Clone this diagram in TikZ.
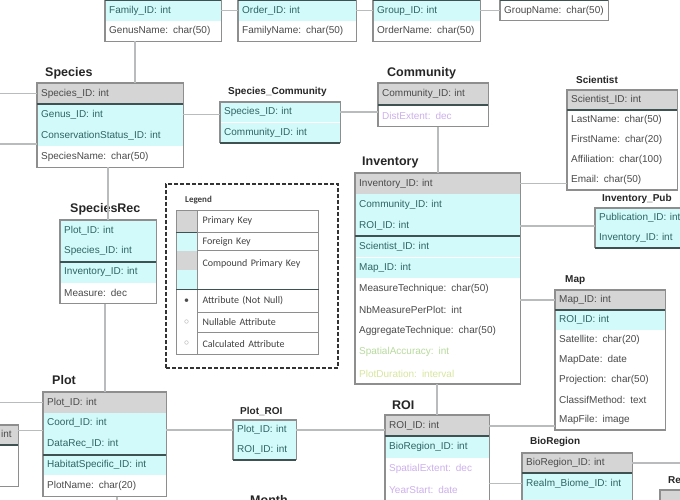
\documentclass[tikz,border=0pt]{standalone}
\usepackage{fontspec}
\setmainfont{Liberation Sans}
\newfontfamily\legendfont{Carlito}
\usetikzlibrary{positioning}

\definecolor{pkgray}{HTML}{D5D5D5}
\definecolor{fkcyan}{HTML}{D2FAFA}
\definecolor{framegray}{HTML}{8E8E8E}
\definecolor{sepdark}{HTML}{3E5252}
\definecolor{relgray}{HTML}{B8BCBC}
\definecolor{txtgray}{HTML}{4A4A4A}
\definecolor{fktxt}{HTML}{2F6464}
\definecolor{nullpurple}{HTML}{CDB0EC}
\definecolor{calcgreen}{HTML}{B8DA9E}
\definecolor{calcyellow}{HTML}{D8E69E}

\tikzset{
  cell/.style={anchor=north west, inner xsep=4pt, inner ysep=0pt, minimum height=20pt,
    text width=100pt, align=left, font=\fontsize{10}{11}\selectfont, text=txtgray},
  pk/.style={cell, fill=pkgray},
  fk/.style={cell, fill=fkcyan, text=fktxt},
  att/.style={cell, fill=white},
  tbl/.style={draw=framegray, line width=1.1pt},
  keysep/.style={draw=sepdark, line width=2pt},
  rel/.style={draw=relgray, line width=1.6pt},
  bigtitle/.style={anchor=west, inner sep=0pt, text=black!85,
    font=\fontsize{12.5}{13}\selectfont\bfseries},
  smalltitle/.style={anchor=west, inner sep=0pt, text=black!85,
    font=\fontsize{10}{11}\selectfont\bfseries},
  legendbox/.style={draw=black!80, line width=2pt, dash pattern=on 4pt off 2pt},
  lgswatch/.style={anchor=north west, inner sep=0pt, minimum width=21pt,
    font=\legendfont\fontsize{10}{11}\selectfont, text=black!70},
  lgtext/.style={anchor=north west, inner xsep=5pt, inner ysep=0pt, text width=111pt,
    align=left, font=\legendfont\fontsize{10}{11}\selectfont, text=black!75},
  lgline/.style={draw=framegray, line width=0.8pt},
}

\begin{document}
\begin{tikzpicture}[x=1pt,y=-1pt,node distance=0pt]
\useasboundingbox (0,0) rectangle (680,500);
\clip (0,0) rectangle (680,500);
\fill[white] (0,0) rectangle (680,500);
\coordinate (edgeW) at (0,0);
\coordinate (edgeE) at (680,0);
\coordinate (edgeS) at (0,505);

% top row, cut off
\begin{scope}[cell/.append style={text width=108pt}]
  \node[pk] (gen-pk) at (105,-20) {};
  \node[fk,below=of gen-pk] (gen-f1) {Family\_ID: int};
  \node[att,below=of gen-f1] (gen-a1) {GenusName: char(50)};
\end{scope}
\begin{scope}[cell/.append style={text width=110pt}]
  \node[pk] (fam-pk) at (238,-20) {};
  \node[fk,below=of fam-pk] (fam-f1) {Order\_ID: int};
  \node[att,below=of fam-f1] (fam-a1) {FamilyName: char(50)};
\end{scope}
\begin{scope}[cell/.append style={text width=99pt}]
  \node[pk] (ord-pk) at (373,-20) {};
  \node[fk,below=of ord-pk] (ord-f1) {Group\_ID: int};
  \node[att,below=of ord-f1] (ord-a1) {OrderName: char(50)};
\end{scope}
\begin{scope}[cell/.append style={text width=100pt}]
  \node[pk] (grp-pk) at (500,-20) {};
  \node[att,below=of grp-pk] (grp-a1) {GroupName: char(50)};
\end{scope}
\foreach \t/\r in {gen/gen-a1,fam/fam-a1,ord/ord-a1,grp/grp-a1}{
  \draw[tbl] (\t-pk.north west) rectangle (\r.south east);
  \draw[keysep] (\t-pk.south west) -- (\t-pk.south east);
}

% Species
\node[bigtitle] (spc-title) at (45,73) {Species};
\begin{scope}[cell/.append style={text width=138pt,minimum height=20.7pt}]
  \node[pk] (spc-pk) at (37,83) {Species\_ID: int};
  \node[fk,below=of spc-pk] (spc-f1) {Genus\_ID: int};
  \node[fk,below=of spc-f1] (spc-f2) {ConservationStatus\_ID: int};
  \node[att,below=of spc-f2] (spc-a1) {SpeciesName: char(50)};
\end{scope}
\draw[tbl] (spc-pk.north west) rectangle (spc-a1.south east);
\draw[keysep] (spc-pk.south west) -- (spc-pk.south east);

% Species_Community
\node[smalltitle] (sc-title) at (228,92) {Species\_Community};
\begin{scope}[cell/.append style={text width=112pt}]
  \node[fk] (sc-f1) at (220,102) {Species\_ID: int};
  \node[fk,below=of sc-f1] (sc-f2) {Community\_ID: int};
\end{scope}
\draw[tbl] (sc-f1.north west) rectangle (sc-f2.south east);
\draw[keysep] (sc-f2.south west) -- (sc-f2.south east);

% Community
\node[bigtitle] (com-title) at (387,73) {Community};
\begin{scope}[cell/.append style={text width=102pt,minimum height=21.5pt}]
  \node[pk] (com-pk) at (378,83) {Community\_ID: int};
  \node[att,below=of com-pk,text=nullpurple] (com-a1) {DistExtent: dec};
\end{scope}
\draw[tbl] (com-pk.north west) rectangle (com-a1.south east);
\draw[keysep] (com-pk.south west) -- (com-pk.south east);

% Scientist
\node[smalltitle] (sci-title) at (576,80) {Scientist};
\begin{scope}[cell/.append style={text width=102pt,minimum height=19.6pt}]
  \node[pk] (sci-pk) at (567,90) {Scientist\_ID: int};
  \node[att,below=of sci-pk] (sci-a1) {LastName: char(50)};
  \node[att,below=of sci-a1] (sci-a2) {FirstName: char(20)};
  \node[att,below=of sci-a2] (sci-a3) {Affiliation: char(100)};
  \node[att,below=of sci-a3] (sci-a4) {Email: char(50)};
\end{scope}
\draw[tbl] (sci-pk.north west) rectangle (sci-a4.south east);
\draw[keysep] (sci-pk.south west) -- (sci-pk.south east);

% Inventory
\node[bigtitle] (inv-title) at (362,162) {Inventory};
\begin{scope}[cell/.append style={text width=157pt,minimum height=20.7pt}]
  \node[pk] (inv-pk) at (355,173) {Inventory\_ID: int};
  \node[fk,below=of inv-pk] (inv-f1) {Community\_ID: int};
  \node[fk,below=of inv-f1] (inv-f2) {ROI\_ID: int};
  \node[fk,below=of inv-f2] (inv-f3) {Scientist\_ID: int};
  \node[fk,below=of inv-f3] (inv-f4) {Map\_ID: int};
  \node[att,below=of inv-f4] (inv-a1) {MeasureTechnique: char(50)};
  \node[att,below=of inv-a1] (inv-a2) {NbMeasurePerPlot: int};
  \node[att,below=of inv-a2] (inv-a3) {AggregateTechnique: char(50)};
  \node[att,below=of inv-a3,text=calcgreen] (inv-a4) {SpatialAccuracy: int};
  \node[att,below=of inv-a4,text=calcyellow] (inv-a5) {PlotDuration: interval};
\end{scope}
\draw[tbl] (inv-pk.north west) rectangle (inv-a5.south east);
\draw[keysep] (inv-f2.south west) -- (inv-f2.south east);

% Inventory_Pub
\node[smalltitle] (ip-title) at (602,199) {Inventory\_Pub};
\begin{scope}[cell/.append style={text width=92pt,minimum height=19.5pt}]
  \node[fk] (ip-f1) at (595,208) {Publication\_ID: int};
  \node[fk,below=of ip-f1] (ip-f2) {Inventory\_ID: int};
\end{scope}
\draw[tbl] (ip-f1.north west) rectangle (ip-f2.south east);
\draw[keysep] (ip-f2.south west) -- (ip-f2.south east);

% Map
\node[smalltitle] (map-title) at (565,280) {Map};
\begin{scope}[cell/.append style={text width=102pt,minimum height=19.6pt}]
  \node[pk] (map-pk) at (555,290) {Map\_ID: int};
  \node[fk,below=of map-pk] (map-f1) {ROI\_ID: int};
  \node[att,below=of map-f1] (map-a1) {Satellite: char(20)};
  \node[att,below=of map-a1] (map-a2) {MapDate: date};
  \node[att,below=of map-a2] (map-a3) {Projection: char(50)};
  \node[att,below=of map-a3] (map-a4) {ClassifMethod: text};
  \node[att,below=of map-a4] (map-a5) {MapFile: image};
\end{scope}
\draw[tbl] (map-pk.north west) rectangle (map-a5.south east);
\draw[keysep] (map-pk.south west) -- (map-pk.south east);

% Legend
\node[legendbox,anchor=north west,minimum width=172pt,minimum height=184pt] (legend) at (165,183) {};
\node[anchor=west,inner sep=0pt,font=\legendfont\bfseries\fontsize{9}{10}\selectfont,text=black!75]
  (lg-title) at (185,200) {Legend};
\node[lgswatch,fill=pkgray,minimum height=22pt] (lg-s1) at (176,210) {};
\node[lgswatch,fill=fkcyan,minimum height=18pt,below=of lg-s1] (lg-s2) {};
\node[lgswatch,fill=pkgray,minimum height=19pt,below=of lg-s2] (lg-s3) {};
\node[lgswatch,fill=fkcyan,minimum height=19pt,below=of lg-s3] (lg-s3b) {};
\node[lgswatch,minimum height=22pt,below=of lg-s3b] (lg-s4) {\textbullet};
\node[lgswatch,minimum height=20pt,below=of lg-s4,text=black!35] (lg-s5) {$\circ$};
\node[lgswatch,minimum height=22pt,below=of lg-s5,text=black!35] (lg-s6) {$\circ$};
\node[lgtext,minimum height=22pt] (lg-t1) at (lg-s1.north east) {Primary Key};
\node[lgtext,minimum height=18pt] (lg-t2) at (lg-s2.north east) {Foreign Key};
\node[lgtext,minimum height=26pt] (lg-t3) at (lg-s3.north east) {Compound Primary Key};
\node[lgtext,minimum height=22pt] (lg-t4) at (lg-s4.north east) {Attribute (Not Null)};
\node[lgtext,minimum height=20pt] (lg-t5) at (lg-s5.north east) {Nullable Attribute};
\node[lgtext,minimum height=22pt] (lg-t6) at (lg-s6.north east) {Calculated Attribute};
\draw[lgline] (lg-s1.north west) rectangle (lg-t6.south east);
\draw[lgline] (lg-s1.north east) -- (lg-s6.south east);
\foreach \r in {lg-t2,lg-t3,lg-t5,lg-t6}
  \draw[lgline] (\r.north west) -- (\r.north east);
\draw[keysep,line width=1.4pt] (lg-s1.south west) -- (lg-s1.south east);
\draw[keysep,line width=1.4pt] (lg-s4.north west) -- (lg-t4.north east);

% SpeciesRec
\node[bigtitle] (sr-title) at (70,209) {SpeciesRec};
\begin{scope}[cell/.append style={text width=88pt,minimum height=20.5pt}]
  \node[fk] (sr-f1) at (60,220) {Plot\_ID: int};
  \node[fk,below=of sr-f1] (sr-f2) {Species\_ID: int};
  \node[fk,below=of sr-f2] (sr-f3) {Inventory\_ID: int};
  \node[att,below=of sr-f3] (sr-a1) {Measure: dec};
\end{scope}
\draw[tbl] (sr-f1.north west) rectangle (sr-a1.south east);
\draw[keysep] (sr-f2.south west) -- (sr-f2.south east);

% Plot
\node[bigtitle] (plt-title) at (52,380) {Plot};
\begin{scope}[cell/.append style={text width=115pt,minimum height=20.5pt}]
  \node[pk] (plt-pk) at (43,392) {Plot\_ID: int};
  \node[fk,below=of plt-pk] (plt-f1) {Coord\_ID: int};
  \node[fk,below=of plt-f1] (plt-f2) {DataRec\_ID: int};
  \node[fk,below=of plt-f2] (plt-f3) {HabitatSpecific\_ID: int};
  \node[att,below=of plt-f3] (plt-a1) {PlotName: char(20)};
\end{scope}
\draw[tbl] (plt-pk.north west) rectangle (plt-a1.south east);
\draw[keysep] (plt-f2.south west) -- (plt-f2.south east);

% cut off on the left
\begin{scope}[cell/.append style={text width=62pt}]
  \node[pk] (lft-pk) at (-52,425) {Coord\_ID: int};
  \node[att,below=of lft-pk] (lft-a1) {};
  \node[att,below=of lft-a1] (lft-a2) {};
\end{scope}
\draw[tbl] (lft-pk.north west) rectangle (lft-a2.south east);
\draw[keysep] (lft-pk.south west) -- (lft-pk.south east);

% Plot_ROI
\node[smalltitle] (pr-title) at (240,411) {Plot\_ROI};
\begin{scope}[cell/.append style={text width=55pt,minimum height=19.5pt}]
  \node[fk] (pr-f1) at (233,420) {Plot\_ID: int};
  \node[fk,below=of pr-f1] (pr-f2) {ROI\_ID: int};
\end{scope}
\draw[tbl] (pr-f1.north west) rectangle (pr-f2.south east);
\draw[keysep] (pr-f2.south west) -- (pr-f2.south east);

% ROI
\node[bigtitle] (roi-title) at (392,405) {ROI};
\begin{scope}[cell/.append style={text width=96pt,minimum height=21pt}]
  \node[pk] (roi-pk) at (385,415) {ROI\_ID: int};
  \node[fk,below=of roi-pk] (roi-f1) {BioRegion\_ID: int};
  \node[att,below=of roi-f1,text=nullpurple] (roi-a1) {SpatialExtent: dec};
  \node[att,below=of roi-a1,text=nullpurple] (roi-a2) {YearStart: date};
  \node[att,below=of roi-a2] (roi-a3) {};
\end{scope}
\draw[tbl] (roi-pk.north west) rectangle (roi-a3.south east);
\draw[keysep] (roi-pk.south west) -- (roi-pk.south east);

% BioRegion
\node[smalltitle] (bio-title) at (530,442) {BioRegion};
\begin{scope}[cell/.append style={text width=102pt}]
  \node[pk] (bio-pk) at (522,453) {BioRegion\_ID: int};
  \node[fk,below=of bio-pk] (bio-f1) {Realm\_Biome\_ID: int};
  \node[fk,below=of bio-f1] (bio-f2) {};
\end{scope}
\draw[tbl] (bio-pk.north west) rectangle (bio-f2.south east);
\draw[keysep] (bio-pk.south west) -- (bio-pk.south east);

% cut off on the right and below
\node[smalltitle] (rb-title) at (668,480) {Realm\_Biome};
\begin{scope}[cell/.append style={text width=72pt}]
  \node[pk] (rb-pk) at (660,490) {};
  \node[att,below=of rb-pk] (rb-a1) {};
\end{scope}
\draw[tbl] (rb-pk.north west) rectangle (rb-a1.south east);
\node[bigtitle] (mon-title) at (250,500) {Month};

% relations
\draw[rel] (gen-f1.east) -- (fam-f1.west);
\draw[rel] (fam-f1.east) -- (ord-f1.west);
\draw[rel] (ord-f1.east) -- (grp-a1.west);
\draw[rel] ([xshift=-28pt]gen-a1.south) -- ([xshift=-28pt]gen-a1.south |- spc-pk.north);
\draw[rel] (spc-pk.west) -- (spc-pk.west -| edgeW);
\draw[rel] ([yshift=-8pt]spc-f2.west) -- ([yshift=-8pt]spc-f2.west -| edgeW);
\draw[rel] (spc-f1.east) -- (spc-f1.east -| sc-f1.west);
\draw[rel] (sc-f1.east) -- (sc-f1.east -| com-pk.west);
\draw[rel] (inv-pk.north) -- (inv-pk.north |- com-a1.south);
\draw[rel] (inv-pk.east) -- (inv-pk.east -| sci-a4.west);
\draw[rel] (inv-f2.east) -- (inv-f2.east -| ip-f1.west);
\draw[rel] (map-pk.west) -- (map-pk.west -| inv-a1.east);
\draw[rel] (roi-pk.north) -- (roi-pk.north |- inv-a5.south);
\draw[rel] (sr-f1.north) -- (sr-f1.north |- spc-a1.south);
\draw[rel] (plt-pk.north) -- (plt-pk.north |- sr-a1.south);
\draw[rel] (plt-pk.west) -- (plt-pk.west -| edgeW);
\draw[rel] ([yshift=-7pt]plt-f1.west) -- ([yshift=-7pt]plt-f1.west -| lft-pk.east);
\draw[rel] ([xshift=12pt]plt-a1.south) -- ([xshift=12pt]plt-a1.south |- edgeS);
\draw[rel] (pr-f1.west) -- (pr-f1.west -| plt-f1.east);
\draw[rel] (pr-f1.east) -- (pr-f1.east -| roi-pk.west);
\draw[rel] (roi-pk.east) -- (roi-pk.east -| map-a5.west);
\draw[rel] (bio-f1.west) -- (bio-f1.west -| roi-pk.east);
\draw[rel] (bio-pk.east) -- (bio-pk.east -| edgeE);
\end{tikzpicture}
\end{document}
